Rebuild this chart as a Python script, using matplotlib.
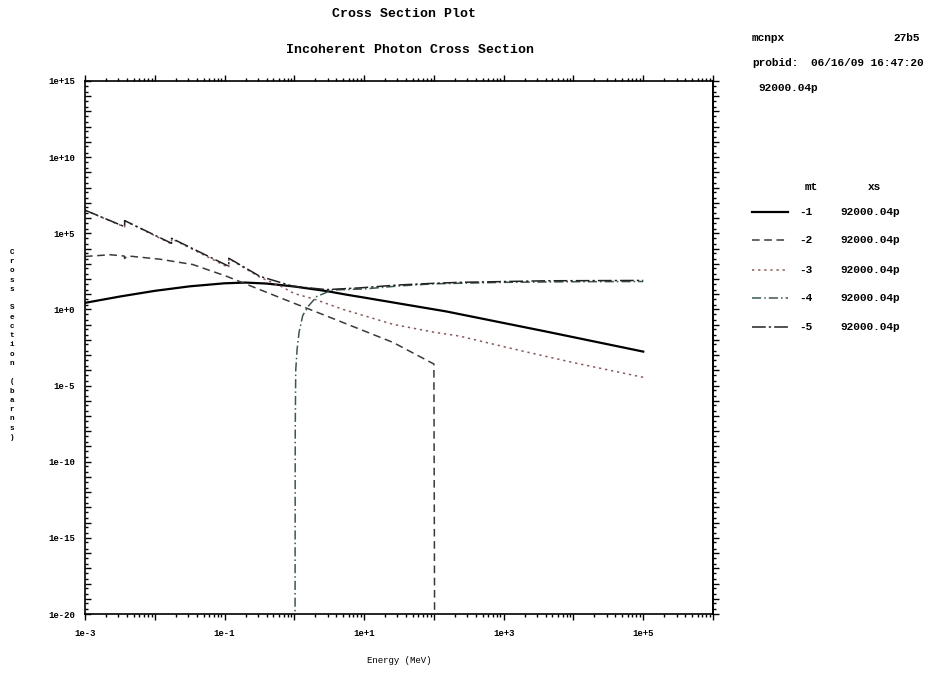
#paquetes
import numpy as np
import matplotlib
matplotlib.use("Agg")
import matplotlib.pyplot as plt
from matplotlib.lines import Line2D
from matplotlib.ticker import FixedLocator, FuncFormatter, NullFormatter

plt.rcParams['font.family'] = ['Liberation Mono', 'DejaVu Sans Mono']
plt.rcParams['font.weight'] = 'bold'

# datos (energia en MeV, seccion eficaz en barns)
# mt -1 incoherente
e_incoh = [1e-3, 3.2e-3, 1e-2, 3.2e-2, 0.1, 0.2, 0.4, 1.0, 2.9, 5.6, 10, 150, 4100, 1e5]
xs_incoh = [2.7, 7.1, 16.6, 33, 52, 58, 50, 32, 16, 9.3, 6.0, 0.74, 0.035, 1.7e-3]

# mt -2 coherente
e_coh = [1e-3, 2.3e-3, 3.65e-3, 3.7e-3, 4.0e-3, 1.17e-2, 3.5e-2, 0.107, 0.32, 0.96, 2.9, 8.7, 26, 100, 103]
xs_coh = [3000, 3900, 3200, 2200, 3300, 2000, 890, 150, 20, 2.7, 0.37, 0.05, 6.8e-3, 2.6e-4, 1e-25]

# mt -3 fotoelectrico
e_foto = [1e-3, 3.7e-3, 3.7e-3, 1.74e-2, 1.74e-2, 0.115, 0.115, 0.32, 0.63, 1.0, 1.86, 5.0, 26, 100, 230, 1400, 1e4, 1e5]
xs_foto = [3.2e6, 2.6e5, 6.6e5, 2.0e4, 4.4e4, 560, 2200, 130, 35, 11, 5.0, 1.0, 0.105, 0.032, 0.018, 2.5e-3, 3.2e-4, 3.5e-5]

# mt -4 produccion de pares
e_par = [1.022, 1.03, 1.047, 1.096, 1.17, 1.32, 1.58, 2.1, 3.5, 10, 32, 100, 1000, 1e4, 1e5]
xs_par = [1e-25, 1e-8, 1e-4, 2.5e-3, 0.032, 0.4, 1.6, 7.1, 19, 22, 35, 48, 60, 66, 68]

# mt -5 total
e_tot = [1e-3, 3.7e-3, 3.7e-3, 1.74e-2, 1.74e-2, 0.115, 0.115, 0.32, 0.96, 2.9, 8.7, 30, 100, 230, 4100, 1e5]
xs_tot = [3.3e6, 2.7e5, 6.8e5, 2.2e4, 4.7e4, 680, 2300, 150, 33, 20, 26, 40, 52, 60, 76, 80]

mts = ["-1", "-2", "-3", "-4", "-5"]
xs_nombre = "92000.04p"

estilos = [
    dict(color="black", ls="-", lw=1.6),
    dict(color="#3a3a3a", ls=(0, (5, 3)), lw=1.1),
    dict(color="#8a5a5a", ls=(0, (1.5, 2.5)), lw=1.1),
    dict(color="#3c5656", ls=(0, (6, 2, 1, 2)), lw=1.1),
    dict(color="#222222", ls=(0, (9, 2, 1.5, 2)), lw=1.1),
]

fig = plt.figure(figsize=(9.31, 6.73), dpi=100)
ax = fig.add_axes([85/931, 1-614/673, 628/931, 533/673])

datos = [(e_incoh, xs_incoh), (e_coh, xs_coh), (e_foto, xs_foto), (e_par, xs_par), (e_tot, xs_tot)]
for (e, s), est in zip(datos, estilos):
    ax.plot(e, s, **est)

ax.set_xscale("log")
ax.set_yscale("log")
ax.set_xlim(1e-3, 1e6)
ax.set_ylim(1e-20, 1e15)

# ticks
def etiqueta(paso, desde):
    def f(v, pos):
        k = int(round(np.log10(v)))
        return "1e%+d" % k if (k - desde) % paso == 0 else ""
    return f

ax.xaxis.set_major_locator(FixedLocator([10.0**k for k in range(-3, 7)]))
ax.xaxis.set_major_formatter(FuncFormatter(etiqueta(2, -3)))
ax.xaxis.set_minor_locator(FixedLocator([m * 10.0**k for k in range(-3, 6) for m in range(2, 10)]))
ax.xaxis.set_minor_formatter(NullFormatter())
ax.yaxis.set_major_locator(FixedLocator([10.0**k for k in range(-20, 16)]))
ax.yaxis.set_major_formatter(FuncFormatter(etiqueta(5, 0)))
ax.yaxis.set_minor_locator(FixedLocator([m * 10.0**k for k in range(-20, 15) for m in (2, 5)]))
ax.yaxis.set_minor_formatter(NullFormatter())

ax.tick_params(axis="x", which="both", direction="out", top=True, labeltop=False,
               labelsize=6.5, pad=6, width=1.0)
ax.tick_params(axis="x", which="major", length=4.5)
ax.tick_params(axis="x", which="minor", length=2.5)
ax.tick_params(axis="y", which="both", direction="in", right=False, labelsize=6.5, pad=7, width=1.0)
ax.tick_params(axis="y", which="major", length=4)
ax.tick_params(axis="y", which="minor", length=2.5)

der = ax.secondary_yaxis("right")
der.yaxis.set_major_locator(FixedLocator([10.0**k for k in range(-20, 16)]))
der.yaxis.set_minor_locator(FixedLocator([m * 10.0**k for k in range(-20, 15) for m in (2, 5)]))
der.yaxis.set_major_formatter(NullFormatter())
der.yaxis.set_minor_formatter(NullFormatter())
der.tick_params(which="both", direction="out", width=1.0)
der.tick_params(which="major", length=4)
der.tick_params(which="minor", length=2.5)

for sp in ax.spines.values():
    sp.set_linewidth(1.2)
der.spines["right"].set_linewidth(1.2)

ax.set_xlabel("Energy (MeV)", fontsize=6.5, labelpad=13)

# titulos
fig.text(0.434, 1-14/673, "Cross Section Plot", ha="center", va="center", fontsize=9.5)
fig.text(0.44, 1-50/673, "Incoherent Photon Cross Section", ha="center", va="center", fontsize=9.5)

# etiqueta y en letras apiladas
fig.text(12/931, 1-345/673, "\n".join("Cross Section (barns)"), ha="center", va="center",
         fontsize=5.5, linespacing=1.45)

# bloque de informacion
fig.text(752/931, 1-38/673, "mcnpx", fontsize=8, va="center")
fig.text(920/931, 1-38/673, "27b5", fontsize=8, va="center", ha="right")
fig.text(752/931, 1-63/673, "probid:", fontsize=8, va="center")
fig.text(924/931, 1-63/673, "06/16/09 16:47:20", fontsize=8, va="center", ha="right")
fig.text(758/931, 1-88/673, xs_nombre, fontsize=8, va="center")

# leyenda
fig.text(805/931, 1-187/673, "mt", fontsize=8, va="center")
fig.text(868/931, 1-187/673, "xs", fontsize=8, va="center")
filas_y = [212, 240, 270, 298, 327]
for mt, est, yy in zip(mts, estilos, filas_y):
    y = 1 - yy/673
    fig.add_artist(Line2D([752/931, 788/931], [y, y], transform=fig.transFigure, **est))
    fig.text(799/931, y, mt, fontsize=8, va="center")
    fig.text(840/931, y, xs_nombre, fontsize=8, va="center")

fig.savefig("out.png", dpi=100)
